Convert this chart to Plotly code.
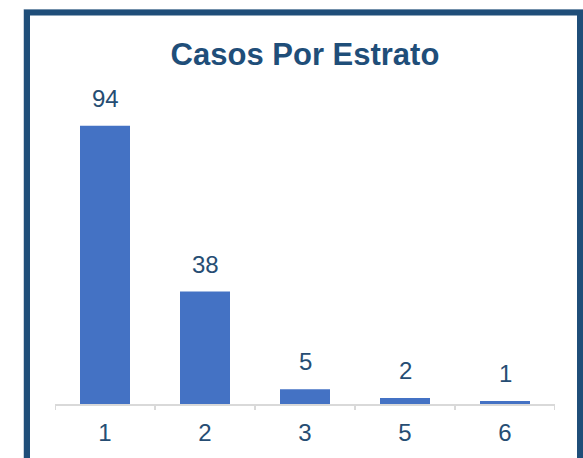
import plotly.graph_objects as go

categories = ["1", "2", "3", "5", "6"]
values = [94, 38, 5, 2, 1]

W, H = 583, 458
L, R, T, B = 55, 583 - 555, 108, 458 - 404
PW, PH = W - L - R, H - T - B

def px_x(p):
    return (p - L) / PW

def px_y(p):
    return (H - B - p) / PH

DARK = "#1F4E79"
TXT = "#264D73"
FONT = "Liberation Sans, Arial, sans-serif"

fig = go.Figure(go.Bar(
    x=list(range(len(categories))), y=values, width=0.5,
    marker=dict(color="#4472C4", line=dict(width=0)),
    hoverinfo="y",
))

for i, v in enumerate(values):
    fig.add_annotation(x=i, y=v, text=str(v), showarrow=False,
                       yanchor="bottom", yshift=12,
                       font=dict(family=FONT, size=24, color=TXT))

fig.add_shape(type="rect", xref="paper", yref="paper",
              x0=px_x(23.5), x1=px_x(583.5), y0=px_y(490), y1=px_y(9.5),
              line=dict(color="#C9D3DE", width=1), fillcolor="rgba(0,0,0,0)", layer="below")
fig.add_shape(type="rect", xref="paper", yref="paper",
              x0=px_x(27), x1=px_x(580), y0=px_y(490), y1=px_y(12.5),
              line=dict(color=DARK, width=6), fillcolor="rgba(0,0,0,0)", layer="below")

fig.update_layout(
    width=W, height=H,
    margin=dict(l=L, r=R, t=T, b=B),
    paper_bgcolor="white", plot_bgcolor="white",
    showlegend=False,
    title=dict(text="<b>Casos Por Estrato</b>", x=0.5, xref="paper", xanchor="center",
               y=1 - 54 / H, yref="container", yanchor="middle",
               font=dict(family=FONT, size=31, color=DARK)),
    xaxis=dict(range=[-0.5, len(categories) - 0.5], tickmode="array",
               tickvals=list(range(len(categories))), ticktext=categories,
               showline=True, linecolor="#D9D9D9", linewidth=2,
               ticks="", showgrid=False, zeroline=False, ticklabelstandoff=6,
               tickfont=dict(family=FONT, size=24, color=TXT)),
    yaxis=dict(range=[0, 100], visible=False, showgrid=False, zeroline=False),
)

# boundary tick marks between categories
for b in range(len(categories) + 1):
    fig.add_shape(type="line", xref="x", yref="paper", x0=b - 0.5, x1=b - 0.5,
                  y0=0, y1=-6 / PH, line=dict(color="#D9D9D9", width=2))

fig.write_html("out.html", config={"displayModeBar": False},
               post_script="document.body.style.margin='0';document.body.style.overflow='hidden';")
